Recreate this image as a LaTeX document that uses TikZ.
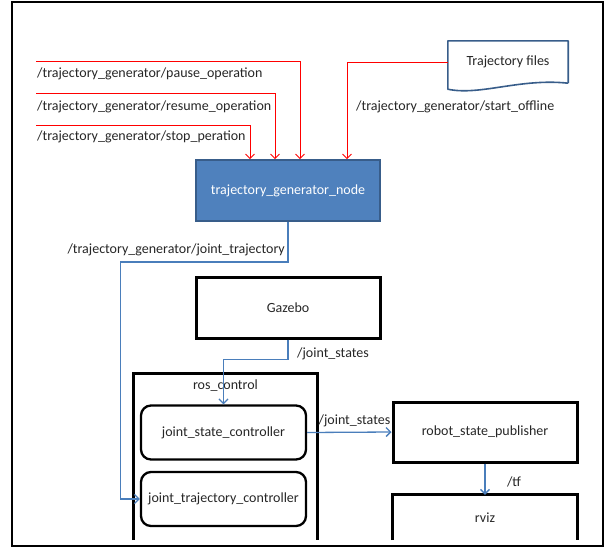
\documentclass[tikz,border=0pt]{standalone}
\usepackage{fontspec}
\setmainfont{Carlito}
\usetikzlibrary{arrows.meta}

\definecolor{nodeblue}{HTML}{4F81BD}
\definecolor{nodeedge}{HTML}{385D8A}
\definecolor{msgblue}{HTML}{4A7EBB}
\definecolor{txtgray}{HTML}{262626}

\tikzset{
  every node/.style={font=\fontsize{14}{16}\selectfont, text=txtgray},
  pkgbox/.style={draw=black, line width=3pt, minimum width=184pt, minimum height=61pt, inner sep=0pt},
  ctrlbox/.style={draw=black, line width=2.3pt, rounded corners=10pt, minimum width=165pt, minimum height=54pt, inner sep=0pt},
  topic/.style={red, line width=0.9pt, -{Straight Barb[length=4.5pt,width=9pt]}},
  msg/.style={msgblue, line width=1.3pt},
  msgarrow/.style={msg, -{Straight Barb[length=4.5pt,width=9pt]}},
  lbl/.style={inner sep=0pt}
}

\begin{document}
\begin{tikzpicture}[x=1pt,y=-1pt]

    \useasboundingbox (0,0) rectangle (605,552);

    %%% FRAME
    \draw[line width=2.2pt] (12,2) rectangle (603,546);

    %%% TOP: trajectory generator and its inputs

    \node[fill=nodeblue, draw=nodeedge, line width=1.6pt, minimum width=184pt, minimum height=61pt, inner sep=0pt, text=white] (tgn) at (288,190.5) {trajectory\_generator\_node};

    % Trajectory files (document shape)
    \node[lbl, minimum width=120pt, minimum height=42pt] (trajfiles) at (508,62) {Trajectory files};
    \draw[nodeedge, line width=1.6pt, line join=round]
        (trajfiles.south east) -- (trajfiles.north east) -- (trajfiles.north west) -- ([yshift=-6pt]trajfiles.south west)
        .. controls (480,96) and (520,78) .. (trajfiles.south east);

    % Topic inputs
    \coordinate (pauseIn) at (36,61);
    \coordinate (resumeIn) at (36,93);
    \coordinate (stopIn) at (36,125);

    \draw[topic] (pauseIn) -| ([xshift=12pt]tgn.north);
    \draw[topic] (resumeIn) -| ([xshift=-13pt]tgn.north);
    \draw[topic] (stopIn) -| ([xshift=-38pt]tgn.north);
    \draw[topic] (trajfiles.west) -| ([xshift=59pt]tgn.north);

    \node[lbl, anchor=west] (pauseLbl) at (37,74) {/trajectory\_generator/pause\_operation};
    \node[lbl, anchor=west] (resumeLbl) at (37,107) {/trajectory\_generator/resume\_operation};
    \node[lbl, anchor=west] (stopLbl) at (37,137) {/trajectory\_generator/stop\_peration};
    \node[lbl, anchor=west] (offlineLbl) at (356,107) {/trajectory\_generator/start\_offline};

    %%% MIDDLE: Gazebo

    \node[pkgbox] (gazebo) at (288,307.5) {Gazebo};

    %%% BOTTOM: ros_control and friends

    % ros_control (cut at the bottom)
    \draw[line width=3pt] (133,540) -- (133,373) -- (317,373) -- (317,540);
    \node[lbl] (rosctrl) at (225.5,386) {ros\_control};

    \node[ctrlbox] (jsc) at (223.5,432.5) {joint\_state\_controller};
    \node[ctrlbox] (jtc) at (223.5,499) {joint\_trajectory\_controller};

    \node[pkgbox, minimum height=60pt] (rsp) at (485,432) {robot\_state\_publisher};

    % rviz (cut at the bottom)
    \node[lbl, minimum width=184pt, minimum height=45pt] (rviz) at (485,517.5) {rviz};
    \draw[line width=3pt] (rviz.south west) -- (rviz.north west) -- (rviz.north east) -- (rviz.south east);

    %%% CONNECTORS
    \coordinate (jtBend) at (120.7,262);
    \draw[msgarrow] (tgn.south) |- (jtBend) |- (jtc.west);
    \node[lbl, anchor=east] (jtLbl) at (285,250) {/trajectory\_generator/joint\_trajectory};

    \draw[msgarrow] (gazebo.south) -- ++(0,20) -| (jsc.north);
    \node[lbl, anchor=west] (gzLbl) at (297,354) {/joint\_states};

    \draw[msgarrow] (jsc.east) -- (rsp.west);
    \node[lbl] (jsLbl) at (354.5,421) {/joint\_states};

    \draw[msgarrow] (rsp.south) -- (rviz.north);
    \node[lbl] (tfLbl) at (514,482) {/tf};

\end{tikzpicture}
\end{document}
